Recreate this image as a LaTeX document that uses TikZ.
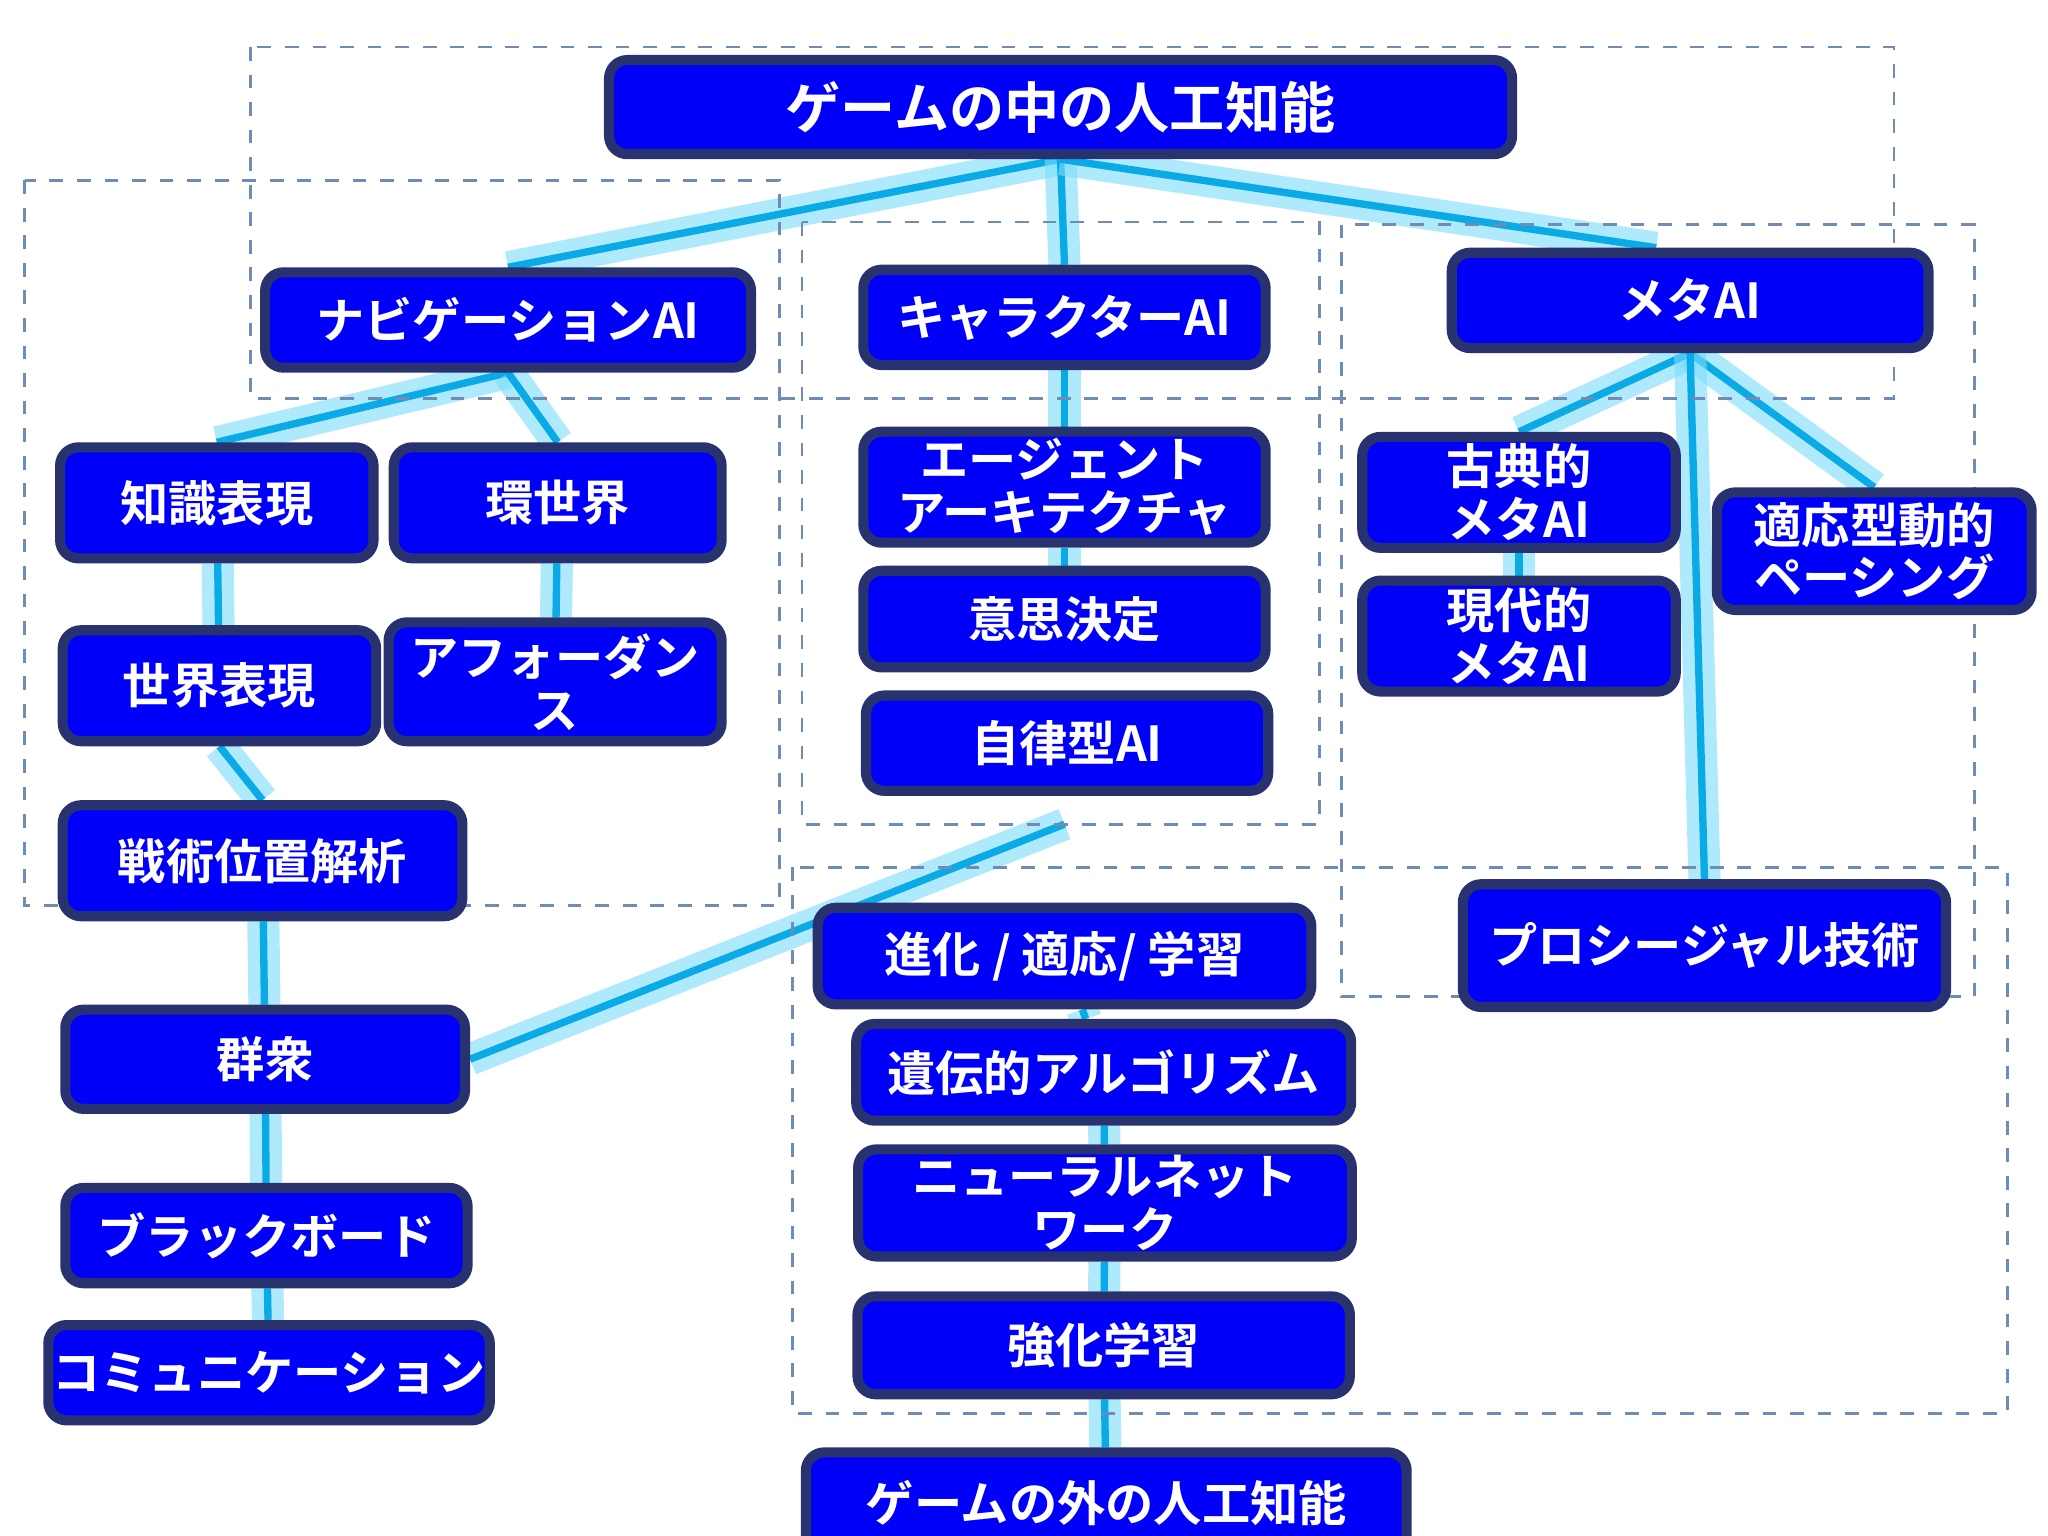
\documentclass[tikz,border=0pt]{standalone}
\usepackage{fontspec}
\setmainfont{Noto Sans CJK JP}
\newfontfamily\jpb{Noto Sans CJK JP Bold}
\usetikzlibrary{backgrounds}
\definecolor{nfill}{RGB}{0,0,250}
\definecolor{nline}{RGB}{40,50,110}
\definecolor{eline}{RGB}{10,170,230}
\definecolor{glow}{RGB}{120,220,250}
\definecolor{dash}{RGB}{110,140,180}
\begin{document}
\begin{tikzpicture}[x=0.01cm,y=-0.01cm,
 box/.style={draw=nline,line width=2.2pt,fill=nfill,rounded corners=4pt,text=white,
   font=\jpb\fontsize{10.5}{11.5}\selectfont,align=center,inner sep=0pt},
 grp/.style={draw=dash,dashed,line width=0.6pt},
 con/.style={draw=eline,line width=1.6pt,preaction={draw=glow,line width=7pt,opacity=0.6}}]
\useasboundingbox (0,0) rectangle (1568,1176);
\draw[grp] (192,36) rectangle (1450,305);
\draw[grp] (19,138) rectangle (597,693);
\draw[grp] (614,170) rectangle (1010,631);
\draw[grp] (1027,172) rectangle (1512,763);
\draw[grp] (607,664) rectangle (1537,1082);
\def\B#1#2#3#4#5#6{\node[box,minimum width=#4*0.01cm,minimum height=#5*0.01cm] (#1) at (#2,#3) {#6};}
\node[box,minimum width=6.91cm,minimum height=0.72cm,font=\jpb\fontsize{12}{13}\selectfont] (top) at (812,82) {ゲームの中の人工知能};
\B{nav}{389}{245}{372}{73}{ナビゲーションAI}
\B{chr}{815}{243}{308}{73}{キャラクターAI}
\B{meta}{1294}{230}{365}{73}{メタAI}
\B{chi}{166}{385}{240}{85}{知識表現}
\B{kan}{427}{385}{251}{85}{環世界}
\B{age}{815}{373}{308}{85}{エージェント\\アーキテクチャ}
\B{kot}{1163}{377}{240}{85}{古典的\\メタAI}
\B{tek}{1435}{422}{241}{90}{適応型動的\\ペーシング}
\B{sek}{168}{525}{240}{85}{世界表現}
\B{aff}{425}{522}{255}{91}{アフォーダン\\ス}
\B{ish}{815}{474}{308}{74}{意思決定}
\B{gen}{1163}{487}{240}{85}{現代的\\メタAI}
\B{jir}{817}{569}{308}{73}{自律型AI}
\B{sen}{201}{659}{306}{85}{戦術位置解析}
\B{shi}{815}{732}{378}{74}{進化 / 適応/ 学習}
\B{pro}{1305}{724}{370}{94}{プロシージャル技術}
\B{gun}{203}{811}{306}{76}{群衆}
\B{ide}{845}{821}{379}{74}{遺伝的アルゴリズム}
\B{neu}{846}{921}{378}{82}{ニューラルネット\\ワーク}
\B{bla}{204}{946}{308}{73}{ブラックボード}
\B{kyo}{845}{1030}{377}{75}{強化学習}
\B{com}{206}{1051}{338}{73}{コミュニケーション}
\B{out}{847}{1151}{460}{78}{ゲームの外の人工知能}
\coordinate (jb) at (815,631);
\begin{scope}[on background layer]
\draw[con] (top.south) -- (nav.north);
\draw[con] (top.south) -- (chr.north);
\draw[con] (top.south) -- ([xshift=-0.26cm]meta.north);
\draw[con] (nav.south) -- (chi.north);
\draw[con] (nav.south) -- (kan.north);
\draw[con] (chr) -- (age);
\draw[con] (age) -- (ish);
\draw[con] (meta.south) -- (kot.north);
\draw[con] (meta.south) -- (tek.north);
\draw[con] (meta.south) -- (pro.north);
\draw[con] (kot) -- (gen);
\draw[con] (chi) -- (sek);
\draw[con] (kan) -- (aff);
\draw[con] (sek.south) -- (sen.north);
\draw[con] (sen) -- (gun);
\draw[con] (gun) -- (bla);
\draw[con] (bla) -- (com);
\draw[con] (jb) -- (gun.east);
\draw[con] (shi) -- (ide);
\draw[con] (ide) -- (neu);
\draw[con] (neu) -- (kyo);
\draw[con] (kyo) -- (out);
\end{scope}
\end{tikzpicture}
\end{document}
